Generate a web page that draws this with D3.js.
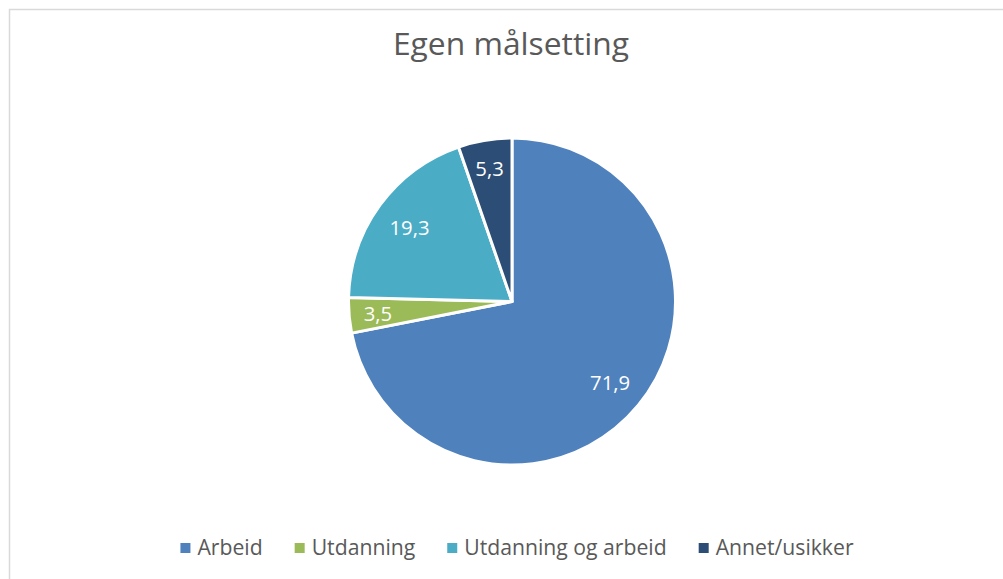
<!DOCTYPE html>
<html>
<head>
<meta charset="utf-8">
<script src="https://cdn.jsdelivr.net/npm/d3@7"></script>
<style>
  html, body { margin: 0; padding: 0; background: #ffffff; }
  svg { display: block; }
  text { font-family: "Open Sans", "Noto Sans", sans-serif; }
</style>
</head>
<body>
<svg id="chart" width="1003" height="579"></svg>
<script>
const title = "Egen målsetting";
const categories = ["Arbeid", "Utdanning", "Utdanning og arbeid", "Annet/usikker"];
const values = [71.9, 3.5, 19.3, 5.3];
const colors = ["#4F81BD", "#9BBB59", "#4BACC6", "#2C4D75"];

const W = 1003, H = 579;
const svg = d3.select("#chart");

// chart border (extends beyond the picture on right/bottom)
svg.append("rect")
  .attr("x", 9.5).attr("y", 9.5)
  .attr("width", 1100).attr("height", 700)
  .attr("fill", "#ffffff")
  .attr("stroke", "#d9d9d9").attr("stroke-width", 1.5);

const cx = 512, cy = 301.5, R = 163.5;

// title
svg.append("text")
  .attr("x", 511).attr("y", 55)
  .attr("text-anchor", "middle")
  .attr("font-size", 31.8)
  .attr("fill", "#595959")
  .text(title);

const data = categories.map((c, i) => ({ name: c, value: values[i], color: colors[i] }));
const pie = d3.pie().value(d => d.value).sort(null);
const arcs = pie(data);
const arc = d3.arc().innerRadius(0).outerRadius(R);

const g = svg.append("g").attr("transform", `translate(${cx},${cy})`);
g.selectAll("path.slice")
  .data(arcs)
  .enter().append("path")
  .attr("class", "slice")
  .attr("d", arc)
  .attr("fill", d => d.data.color)
  .attr("stroke", "#ffffff")
  .attr("stroke-width", 3)
  .attr("stroke-linejoin", "round");

// labels: "inside end" style — move inward along mid-angle until the text box fits
const fmt = v => String(v).replace(".", ",");
const labels = g.selectAll("text.lbl")
  .data(arcs)
  .enter().append("text")
  .attr("class", "lbl")
  .attr("font-size", 20.3)
  .attr("fill", "#ffffff")
  .attr("text-anchor", "middle")
  .text(d => fmt(d.data.value));

labels.each(function(d) {
  const w = this.getComputedTextLength();
  const hw = w / 2, hh = 12;
  const a = (d.startAngle + d.endAngle) / 2;
  const sx = Math.sin(a), sy = -Math.cos(a);
  const limit = R - 13;
  let rho = R;
  for (; rho > 0; rho -= 0.5) {
    const x = rho * sx, y = rho * sy;
    const fx = Math.abs(x) + hw, fy = Math.abs(y) + hh;
    if (Math.sqrt(fx * fx + fy * fy) <= limit) break;
  }
  d3.select(this)
    .attr("x", rho * sx)
    .attr("y", rho * sy + 8);
});

// legend
const legend = svg.append("g");
const items = legend.selectAll("g.item")
  .data(data)
  .enter().append("g").attr("class", "item");
items.append("rect")
  .attr("width", 10).attr("height", 10)
  .attr("fill", d => d.color);
items.append("text")
  .attr("x", 17).attr("y", 12)
  .attr("font-size", 21.2)
  .attr("fill", "#595959")
  .text(d => d.name);

let xPos = 0;
const spacing = 32;
items.each(function() {
  const t = d3.select(this).select("text").node();
  const wItem = 17 + t.getComputedTextLength();
  d3.select(this).attr("transform", `translate(${xPos},0)`);
  xPos += wItem + spacing;
});
const totalW = xPos - spacing;
legend.attr("transform", `translate(${517 - totalW / 2},543)`);
</script>
</body>
</html>
